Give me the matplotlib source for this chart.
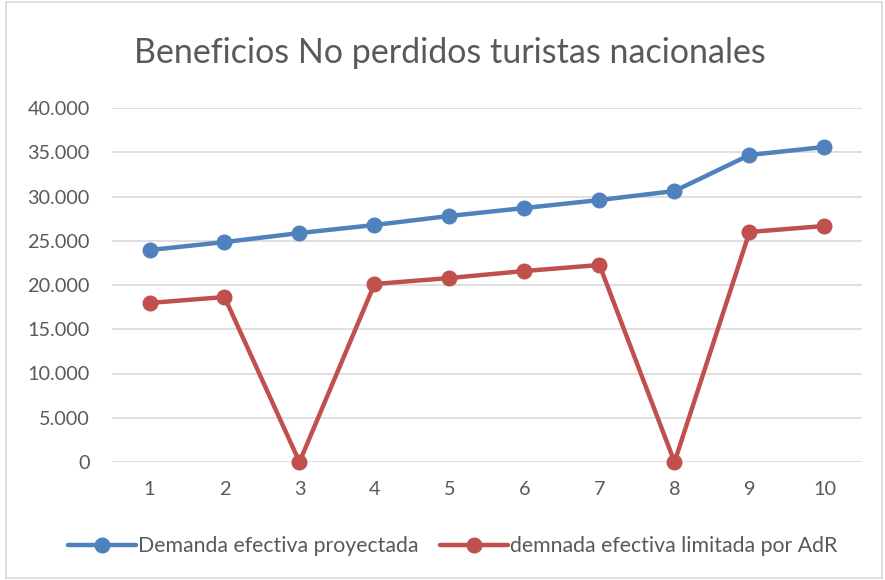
import matplotlib
matplotlib.use("Agg")
import matplotlib.pyplot as plt
from matplotlib.patches import Rectangle

categories = [1, 2, 3, 4, 5, 6, 7, 8, 9, 10]
demanda_proyectada = [23950, 24850, 25870, 26780, 27800, 28700, 29600, 30620, 34690, 35600]
demanda_limitada = [17970, 18640, 0, 20110, 20790, 21580, 22260, 0, 25990, 26670]
yticks = [0, 5000, 10000, 15000, 20000, 25000, 30000, 35000, 40000]
ytick_labels = ["0", "5.000", "10.000", "15.000", "20.000", "25.000", "30.000", "35.000", "40.000"]

plt.rcParams['font.family'] = ['Lato', 'DejaVu Sans']

W, H = 885, 580
fig = plt.figure(figsize=(W / 100, H / 100), dpi=100)
fig.patches.append(Rectangle((6 / W, 2 / H), (W - 9) / W, (H - 4) / H, transform=fig.transFigure,
                             fill=False, edgecolor='#d9d9d9', linewidth=1.2))

ax = fig.add_axes([112 / W, (H - 462) / H, (862 - 112) / W, (462 - 108) / H])
blue = '#4f81bd'
red = '#c0504d'
ax.plot(categories, demanda_proyectada, color=blue, lw=3.2, marker='o', ms=10.5,
        label='Demanda efectiva proyectada', solid_capstyle='round', zorder=3, clip_on=False)
ax.plot(categories, demanda_limitada, color=red, lw=3.2, marker='o', ms=10.5,
        label='demnada efectiva limitada por AdR', solid_capstyle='round', zorder=3, clip_on=False)

ax.set_xlim(0.5, 10.5)
ax.set_ylim(0, 40000)
ax.set_yticks(yticks)
ax.set_yticklabels(ytick_labels)
ax.set_xticks(categories)
ax.set_xticklabels([str(c) for c in categories])
ax.grid(axis='y', color='#d9d9d9', lw=1.2)
ax.set_axisbelow(True)
for s in ax.spines.values():
    s.set_visible(False)
ax.tick_params(axis='both', length=0, labelsize=14.3, colors='#595959')
ax.tick_params(axis='y', pad=16)
ax.tick_params(axis='x', pad=14)

fig.text(450 / W, (H - 53) / H, 'Beneficios No perdidos turistas nacionales', ha='center', va='center',
         fontsize=24.5, color='#595959')

leg = fig.legend(loc='center', bbox_to_anchor=(453 / W, (H - 546) / H), ncol=2, frameon=False,
                 fontsize=15.3, handlelength=3.2, handletextpad=0.1, columnspacing=1.0)
for t in leg.get_texts():
    t.set_color('#595959')

fig.savefig('out.png', dpi=100)
